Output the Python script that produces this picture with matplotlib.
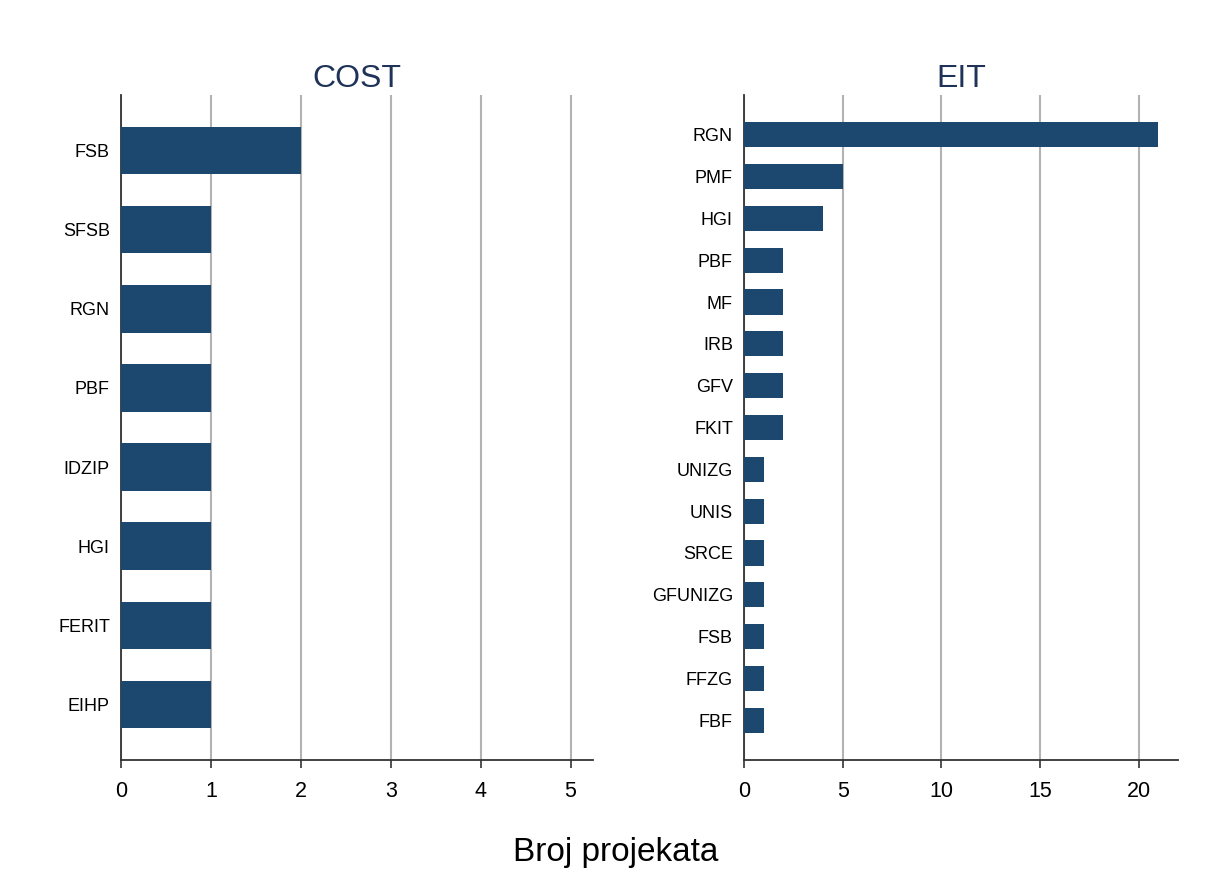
import matplotlib
matplotlib.use('Agg')
import matplotlib.pyplot as plt

plt.rcParams['font.family'] = ['Liberation Sans', 'DejaVu Sans']

# COST panel
cost_labels = ['FSB', 'SFSB', 'RGN', 'PBF', 'IDZIP', 'HGI', 'FERIT', 'EIHP']
cost_values = [2, 1, 1, 1, 1, 1, 1, 1]
cost_ticks = [0, 1, 2, 3, 4, 5]

# EIT panel
eit_labels = ['RGN', 'PMF', 'HGI', 'PBF', 'MF', 'IRB', 'GFV', 'FKIT',
              'UNIZG', 'UNIS', 'SRCE', 'GFUNIZG', 'FSB', 'FFZG', 'FBF']
eit_values = [21, 5, 4, 2, 2, 2, 2, 2, 1, 1, 1, 1, 1, 1, 1]
eit_ticks = [0, 5, 10, 15, 20]

bar_color = '#1c4870'
title_color = '#1f3358'

fig = plt.figure(figsize=(12.09, 8.84), dpi=100)
ax1 = fig.add_axes([0.1001, 0.1403, 0.3904, 0.7522])
ax2 = fig.add_axes([0.6154, 0.1403, 0.3590, 0.7522])

def draw_panel(ax, labels, values, ticks, xmax, pad, title):
    ypos = list(range(len(labels)))
    ax.barh(ypos, values, height=0.6, color=bar_color, zorder=3)
    ax.set_yticks(ypos)
    ax.set_yticklabels(labels, fontsize=13)
    ax.set_ylim(len(labels) - 1 + pad, -pad)
    ax.set_xlim(0, xmax)
    ax.set_xticks(ticks)
    ax.tick_params(axis='x', labelsize=15.5, length=6, width=1.2, color='#333333', pad=9)
    ax.tick_params(axis='y', length=0, pad=8)
    ax.grid(axis='x', color='#b3b3b3', linewidth=1.5, zorder=0)
    ax.set_axisbelow(True)
    for s in ['top', 'right']:
        ax.spines[s].set_visible(False)
    for s in ['left', 'bottom']:
        ax.spines[s].set_color('#333333')
        ax.spines[s].set_linewidth(1.3)
    ax.set_title(title, fontsize=23, color=title_color, pad=6)

draw_panel(ax1, cost_labels, cost_values, cost_ticks, 5.25, 0.7, 'COST')
draw_panel(ax2, eit_labels, eit_values, eit_ticks, 22, 0.95, 'EIT')

fig.text(0.509, 0.036, 'Broj projekata', fontsize=24, ha='center', va='center')

fig.savefig('out.png', dpi=100, facecolor='white')
